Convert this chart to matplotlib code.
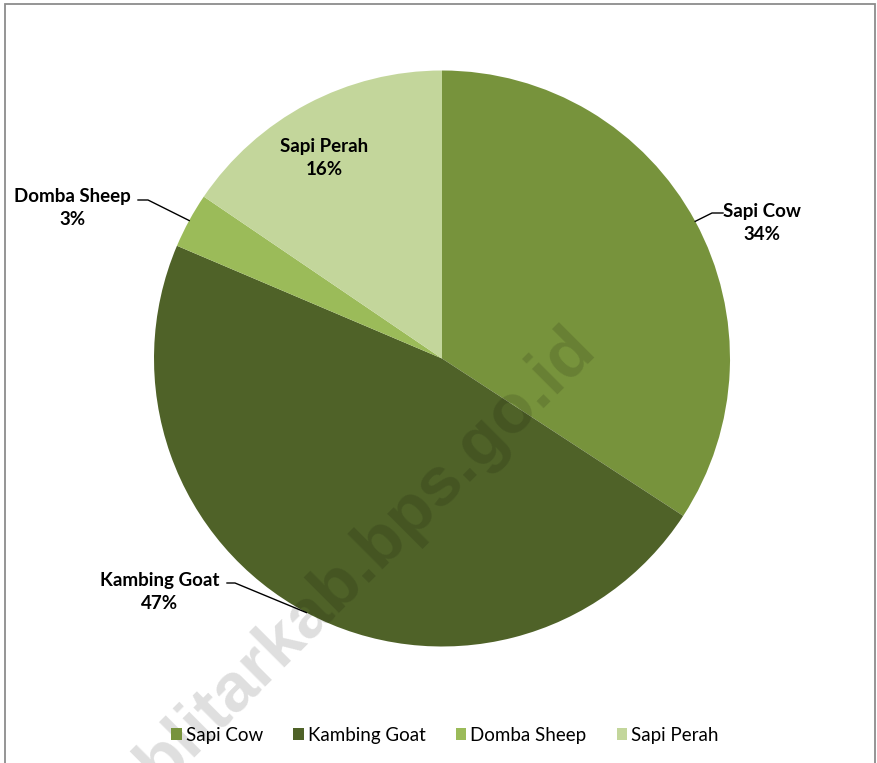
import matplotlib

matplotlib.use("Agg")

import numpy as np
import matplotlib.pyplot as plt
from matplotlib.patches import Rectangle

# data
categories = ["Sapi Cow", "Kambing Goat", "Domba Sheep", "Sapi Perah"]
shares = [34.2, 47.2, 3.1, 15.5]
pct_labels = ["34%", "47%", "3%", "16%"]
colors = ["#77933C", "#4F6228", "#9BBB59", "#C3D69B"]

# layout (pixels of the output image)
W, H = 877, 763
CX, CY, R = 442, 358.5, 288
label_xy = [(762, 223), (160, 592), (72, 208), (324, 158)]
stubs = [(723, 712, 213), (227, 235, 583), (138, 148, 200), None]

plt.rcParams["font.family"] = ["Lato", "DejaVu Sans"]


def px(x, y):
    return (x - CX) / R, (CY - y) / R


fig = plt.figure(figsize=(W / 100, H / 100), dpi=100)
ax = fig.add_axes([0, 0, 1, 1])

wedges, _ = ax.pie(
    shares, colors=colors, startangle=90, counterclock=False,
    radius=1, center=(0, 0), wedgeprops=dict(linewidth=0),
)
ax.set_xlim(-CX / R, (W - CX) / R)
ax.set_ylim(-(H - CY) / R, CY / R)
ax.set_aspect("auto")
ax.axis("off")

for w, cat, pct, (lx, ly), stub in zip(wedges, categories, pct_labels, label_xy, stubs):
    ax.text(*px(lx, ly), f"{cat}\n{pct}", ha="center", va="center",
            fontsize=13.5, fontweight="bold", color="#000000", linespacing=1.42)
    if stub is None:
        continue
    mid = np.deg2rad((w.theta1 + w.theta2) / 2)
    ex, ey = np.cos(mid), np.sin(mid)
    x0, y0 = px(stub[0], stub[2])
    x1, y1 = px(stub[1], stub[2])
    ax.plot([x0, x1, ex], [y0, y1, ey], color="#000000", linewidth=1.0)

# watermark
ax.text(*px(366, 556), "blitarkab.bps.go.id", rotation=45, rotation_mode="anchor",
        ha="center", va="center", fontsize=50, fontweight="bold",
        family=["Liberation Sans", "DejaVu Sans"], color="#000000", alpha=0.13, zorder=5)

fig.legend(
    wedges, categories, loc="center", bbox_to_anchor=(445 / W, 1 - 735 / H),
    ncol=4, frameon=False, fontsize=13.5, handlelength=0.55, handleheight=0.55,
    handletextpad=0.22, columnspacing=1.62,
)

fig.patches.append(Rectangle((5 / W, -0.05), 870 / W, 1.05 - 4 / H,
                             transform=fig.transFigure, fill=False,
                             edgecolor="#8c8c8c", linewidth=1.3))

fig.savefig("out.png", dpi=100, facecolor="white")
